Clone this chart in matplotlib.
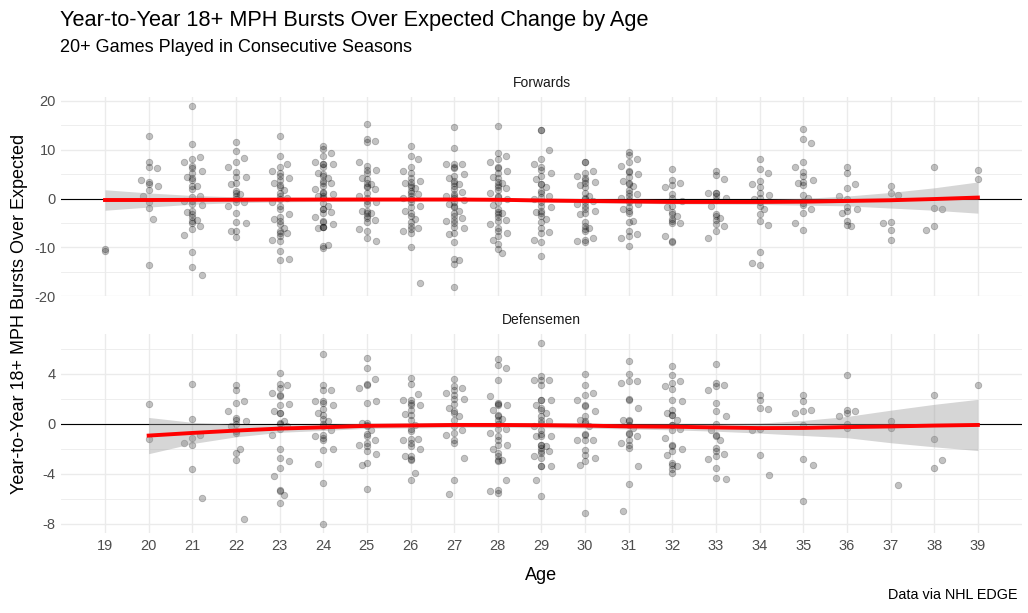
import numpy as np
import matplotlib
matplotlib.use("Agg")
import matplotlib.pyplot as plt
from matplotlib.ticker import MultipleLocator

plt.rcParams['font.family'] = ['Liberation Sans', 'DejaVu Sans']
plt.rcParams['axes.unicode_minus'] = False

# valores (cambio de rafagas 18+ mph sobre lo esperado)
# Delanteros, por edad
f19 = [-10.8, -10.4]
f20 = [12.8, 7.5, 6.3, 6.5, 3.8, 3.4, 3.0, 2.6, 1.7, 0.5, -0.8, -2.0, -4.2, -13.7]
f21 = [19.0, 11.2, 8.6, 8.1, 7.4, 6.6, 6.2, 5.7, 5.2, 4.5, 4.3, 3.8, 2.6, 2.5, 1.9, 0.5, 0.4,
       -0.5, -0.6, -1.2, -1.4, -2.5, -2.8, -3.2, -3.8, -4.3, -4.7, -5.1, -5.6, -6.2, -7.5,
       -10.9, -14.0, -15.7]
f22 = [11.6, 9.8, 8.3, 7.4, 6.4, 5.5, 4.5, 4.5, 3.2, 3.0, 1.6, 1.2, 1.0, 0.5, -0.1, -0.8,
       -0.8, -1.5, -2.9, -4.8, -5.1, -6.6, -6.6, -7.8]
f23 = [12.8, 8.8, 7.1, 6.4, 5.7, 5.2, 4.7, 4.3, 3.9, 3.2, 2.7, 2.3, 1.7, 1.2, 0.5, 0.2, -0.1,
       -0.8, -1.5, -2.2, -3.2, -3.7, -4.2, -4.6, -5.3, -6.0, -6.6, -7.0, -7.0, -7.7, -8.4,
       -8.8, -10.8, -12.3, -12.6]
f24 = [10.8, 10.1, 9.3, 8.8, 7.5, 7.1, 7.1, 7.1, 6.4, 5.2, 4.7, 5.0, 4.3, 3.6, 3.2, 3.2, 2.6,
       1.9, 1.4, 1.2, 1.0, 0.5, 0.5, 0.2, -1.0, -1.5, -2.2, -2.2, -2.7, -3.0, -3.7, -4.6,
       -4.8, -5.3, -5.8, -6.0, -5.8, -5.8, -9.5, -9.7, -10.2]
f25 = [15.3, 12.2, 11.8, 11.6, 7.4, 6.7, 5.9, 5.9, 5.3, 4.3, 4.0, 3.2, 2.9, 2.6, 2.3, 1.9, 1.2,
       0.5, 0.2, -0.5, -0.8, -1.2, -2.5, -2.5, -2.9, -3.0, -3.6, -3.9, -4.4, -4.9, -6.3,
       -6.6, -8.0, -8.7]
f26 = [10.8, 8.8, 8.2, 6.4, 5.7, 5.3, 4.3, 3.6, 3.4, 3.2, 2.7, 2.3, 2.1, 1.6, 1.2, 1.0, 0.5,
       0.2, -0.1, -0.8, -1.5, -1.8, -2.5, -2.9, -3.6, -4.1, -4.9, -5.6, -6.0, -6.3, -6.6,
       -7.0, -9.9, -17.4]
f27 = [14.7, 10.3, 7.1, 7.1, 7.1, 6.4, 6.2, 5.0, 4.7, 4.3, 3.6, 3.2, 2.9, 2.6, 1.9, 1.4, 0.9,
       0.5, 0.5, 0.2, -0.3, -0.8, -1.2, -1.5, -1.8, -2.5, -2.9, -3.6, -3.9, -4.4, -4.6,
       -5.1, -5.8, -6.0, -7.0, -7.3, -8.9, -12.3, -12.7, -13.5, -18.2]
f28 = [14.9, 9.3, 8.8, 8.1, 7.5, 6.4, 6.2, 5.7, 5.2, 4.5, 4.3, 3.4, 3.2, 2.7, 2.3, 2.1, 1.7,
       1.2, 0.5, 0.3, -0.1, -0.7, -1.4, -2.2, -2.7, -2.9, -3.2, -3.7, -4.4, -4.6, -5.3,
       -6.0, -6.6, -7.0, -7.7, -8.5, -9.4, -10.4, -11.1]
f29 = [14.0, 14.0, 10.0, 8.1, 7.1, 6.4, 5.9, 5.3, 4.7, 4.1, 2.9, 2.9, 2.3, 1.6, 1.2, 0.5, 0.4,
       -0.1, -0.7, -1.5, -1.8, -2.5, -2.7, -3.0, -3.6, -4.2, -4.9, -6.0, -6.8, -7.0, -8.4,
       -9.0, -11.8]
f30 = [7.5, 7.5, 5.7, 5.3, 4.7, 4.3, 3.8, 3.4, 3.2, 2.7, 2.3, 1.2, 0.5, 0.2, -0.1, -0.6, -0.8,
       -1.1, -1.6, -2.2, -2.5, -2.9, -3.2, -4.9, -5.6, -6.1, -6.3, -6.6, -8.0, -8.4, -8.7,
       -8.9]
f31 = [9.5, 8.9, 8.2, 7.4, 6.7, 5.7, 5.5, 5.0, 4.5, 3.6, 3.2, 2.9, 2.6, 1.8, 1.2, 0.9, 0.5,
       0.2, -0.3, -0.7, -1.2, -1.7, -2.1, -2.5, -2.9, -4.6, -4.8, -6.6, -7.3, -7.7, -8.0,
       -9.7]
f32 = [6.0, 3.9, 3.2, 2.7, 2.4, 0.9, 0.2, -0.5, -1.6, -1.8, -2.7, -3.2, -3.6, -4.2, -4.6,
       -5.1, -5.1, -7.7, -9.0, -8.8]
f33 = [5.7, 4.8, 4.1, 1.2, 1.1, 1.1, 0.5, 0.2, -0.3, -1.5, -3.2, -3.6, -3.9, -4.4, -5.3,
       -5.6, -6.6, -8.0]
f34 = [8.1, 6.0, 5.2, 3.6, 2.9, 2.3, 1.2, 0.7, 0.2, -0.1, -0.8, -1.5, -2.2, -3.2, -4.6,
       -5.5, -11.0, -13.2, -13.7]
f35 = [14.2, 12.3, 11.4, 7.5, 6.4, 5.5, 4.7, 3.9, 3.4, 3.2, 2.7, 0.8, 0.2, -1.0, -1.4, -2.2,
       -2.9, -5.1, -6.5]
f36 = [6.5, 5.2, 2.9, 2.1, 0.5, -0.1, -1.7, -2.2, -2.5, -2.9, -4.6, -5.5, -5.6]
f37 = [2.5, 1.2, 0.8, -4.8, -5.1, -6.5, -8.6]
f38 = [6.5, -2.0, -2.2, -5.6, -6.5]
f39 = [5.9, 4.0]

# Defensas, por edad
d20 = [1.6, -1.2]
d21 = [3.2, 0.4, -0.9, -1.1, -1.5, -1.7, -3.6, -5.9]
d22 = [3.1, 2.7, 1.8, 1.7, 1.0, 0.5, 0.3, 0.2, 0.0, -0.2, -0.6, -0.7, -2.0, -2.3, -2.9, -7.6]
d23 = [4.1, 3.2, 3.1, 2.9, 2.5, 2.3, 2.2, 1.6, 1.5, 1.0, 0.9, 0.9, 0.2, 0.1, 0.0, -0.2, -0.4,
       -0.9, -2.0, -2.7, -3.0, -3.5, -4.2, -5.3, -5.4, -5.7, -6.3]
d24 = [5.6, 3.1, 2.7, 2.7, 1.8, 1.8, 1.7, 1.5, 1.2, 0.9, 0.7, 0.4, 0.2, 0.0, -0.2, -0.5, -0.9,
       -1.0, -1.1, -1.3, -2.0, -2.1, -3.2, -4.7, -8.0]
d25 = [5.3, 4.5, 3.6, 3.1, 2.9, 3.2, 1.7, 1.8, 0.1, 0.1, -0.05, -0.2, -0.5, -0.8, -1.0, -1.3,
       -1.5, -1.7, -1.8, -2.2, -2.4, -3.1, -3.3, -5.2]
d26 = [3.7, 3.2, 2.4, 1.9, 1.9, 1.7, 1.5, 1.5, 1.1, 0.8, 0.7, 0.3, -0.1, -0.4, -0.6, -1.2,
       -1.2, -1.3, -1.5, -1.8, -2.0, -2.6, -2.6, -2.8, -2.9, -3.9, -4.5]
d27 = [3.6, 3.0, 2.9, 2.7, 2.5, 2.3, 2.0, 2.0, 1.6, 1.3, 1.0, 0.9, 0.6, 0.3, -0.2, -0.5, -0.7,
       -0.9, -1.3, -1.5, -2.7, -4.5, -5.6]
d28 = [5.2, 4.7, 4.5, 3.5, 2.2, 1.6, 1.7, 1.5, 1.5, 1.1, 0.7, 0.6, 0.4, 0.3, 0.0, -0.4, -0.4,
       -0.7, -1.0, -1.3, -1.7, -1.7, -2.0, -2.3, -2.6, -2.9, -2.9, -3.0, -4.5, -5.3, -5.4,
       -5.5]
d29 = [6.5, 3.8, 3.5, 3.5, 3.5, 3.1, 1.9, 1.9, 1.9, 1.5, 1.3, 1.1, 0.9, 0.6, 0.3, 0.2, 0.1,
       -0.2, -0.5, -0.8, -1.0, -1.0, -1.0, -1.7, -1.7, -1.8, -1.9, -2.2, -2.2, -2.3, -2.6,
       -2.7, -3.4, -3.4, -3.4, -4.5, -5.8]
d30 = [4.0, 3.1, 2.5, 2.3, 1.9, 1.5, 1.4, 1.0, 0.6, 0.3, 0.2, 0.1, -0.2, -0.8, -0.9, -1.3,
       -1.3, -1.3, -2.1, -2.5, -2.7, -3.0, -3.3, -7.1]
d31 = [5.0, 4.0, 3.4, 3.4, 3.3, 2.0, 1.9, 1.3, 0.3, 0.3, 0.2, -0.1, -0.3, -0.7, -0.8, -1.0,
       -1.3, -1.5, -1.7, -1.9, -3.4, -4.8, -7.0]
d32 = [4.6, 3.9, 3.4, 3.3, 3.0, 2.8, 1.9, 1.8, 1.1, 0.9, 0.7, 0.7, 0.3, -0.1, -0.1, -0.4,
       -0.5, -1.1, -1.7, -1.8, -2.0, -2.2, -2.5, -3.1, -3.3, -3.4, -3.6, -3.9]
d33 = [4.8, 3.3, 3.1, 3.0, 2.7, 1.7, 1.0, 0.6, 0.0, -0.5, -0.9, -1.0, -1.3, -1.9, -2.2, -2.4,
       -2.6, -2.8, -3.5, -4.3, -4.4]
d34 = [2.3, 1.9, 1.2, 1.3, -0.5, -0.4, -2.5, -4.1]
d35 = [2.3, 1.8, 1.1, 1.0, 0.9, -0.1, -2.8, -3.3, -6.2]
d36 = [3.9, 1.1, 1.0, 0.9, 0.6, 0.0, -0.3]
d37 = [0.2, -0.3, -4.9]
d38 = [2.3, -1.2, -2.9, -3.5]
d39 = [3.1]

# curva suavizada y banda de error
fwd_edades = list(range(19, 40))
fwd_fit = [-0.3, -0.3, -0.27, -0.25, -0.22, -0.2, -0.2, -0.2, -0.2, -0.25, -0.4, -0.5, -0.6,
           -0.7, -0.7, -0.7, -0.65, -0.5, -0.35, -0.1, 0.2]
fwd_se = [2.1, 1.45, 0.9, 0.6, 0.45, 0.4, 0.35, 0.3, 0.3, 0.3, 0.3, 0.35, 0.35, 0.4, 0.45,
          0.5, 0.7, 1.0, 1.6, 2.3, 3.2]
def_edades = list(range(20, 40))
def_fit = [-0.93, -0.72, -0.53, -0.37, -0.27, -0.15, -0.12, -0.08, -0.08, -0.1, -0.13, -0.2,
           -0.22, -0.28, -0.33, -0.32, -0.25, -0.2, -0.13, -0.08]
def_se = [1.45, 0.85, 0.5, 0.3, 0.25, 0.2, 0.2, 0.2, 0.2, 0.2, 0.2, 0.2, 0.25, 0.3, 0.4, 0.6,
          0.85, 1.3, 1.7, 2.05]

fwd_vals = [f19, f20, f21, f22, f23, f24, f25, f26, f27, f28, f29, f30, f31, f32, f33, f34,
            f35, f36, f37, f38, f39]
def_vals = [d20, d21, d22, d23, d24, d25, d26, d27, d28, d29, d30, d31, d32, d33, d34, d35,
            d36, d37, d38, d39]

# desplazamiento horizontal (jitter) fijo
jitter = [0.0, 0.0, 0.18, 0.0, -0.18, 0.0, 0.0, 0.22, 0.0, -0.12, 0.0, 0.0, 0.1]

fig = plt.figure(figsize=(10.28, 6.13), dpi=100)
ax1 = fig.add_axes([0.0597, 0.5165, 0.934, 0.3256])
ax2 = fig.add_axes([0.0597, 0.1304, 0.934, 0.3254])


def panel(ax, edades, valores, e_fit, fit, se, ylim, mayor, menor, titulo):
    for edad, v in zip(edades, valores):
        off = [jitter[i % len(jitter)] for i in range(len(v))]
        ax.scatter(edad + np.array(off), v, s=22, color="black", alpha=0.24,
                   linewidths=0.6, edgecolors="black", zorder=2)
    ax.axhline(0, color="black", lw=0.8, zorder=3)
    fit = np.array(fit)
    se = np.array(se)
    ax.fill_between(e_fit, fit - se, fit + se, color="#999999", alpha=0.4, lw=0, zorder=4)
    ax.plot(e_fit, fit, color="red", lw=2.8, zorder=5)
    ax.set_xlim(18, 40)
    ax.set_ylim(*ylim)
    ax.set_xticks(range(19, 40))
    ax.yaxis.set_major_locator(MultipleLocator(mayor))
    ax.yaxis.set_minor_locator(MultipleLocator(menor))
    ax.grid(True, which="major", color="#ebebeb", lw=1.0)
    ax.grid(True, which="minor", axis="y", color="#ebebeb", lw=0.6)
    ax.set_axisbelow(True)
    for s in ax.spines.values():
        s.set_visible(False)
    ax.tick_params(which="both", length=0, labelsize=10.5, labelcolor="#4d4d4d", pad=4)
    ax.set_title(titulo, fontsize=10, color="#1a1a1a", pad=7)


panel(ax1, fwd_edades, fwd_vals, fwd_edades, fwd_fit, fwd_se, (-20.06, 20.86), 10, 5, "Forwards")
panel(ax2, def_edades, def_vals, def_edades, def_fit, def_se, (-8.73, 7.23), 4, 2, "Defensemen")
ax1.tick_params(labelbottom=False)
ax2.set_xlabel("Age", fontsize=13, color="black", labelpad=10)

fig.text(0.019, 0.488, "Year-to-Year 18+ MPH Bursts Over Expected", rotation=90,
         ha="center", va="center", fontsize=13)
fig.text(0.0584, 0.966, "Year-to-Year 18+ MPH Bursts Over Expected Change by Age",
         fontsize=15.7, ha="left", va="center")
fig.text(0.0584, 0.923, "20+ Games Played in Consecutive Seasons", fontsize=13,
         ha="left", va="center")
fig.text(0.990, 0.029, "Data via NHL EDGE", fontsize=10.4, ha="right", va="center")

fig.savefig("out.png", dpi=100, facecolor="white")
